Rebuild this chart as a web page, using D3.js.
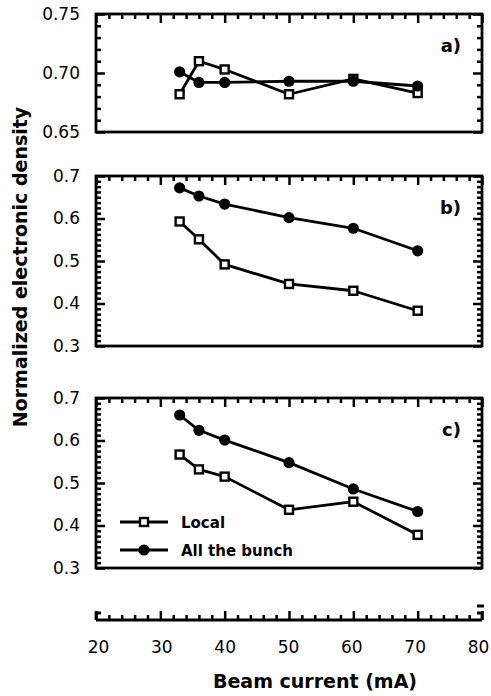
<!DOCTYPE html>
<meta charset="utf-8">
<title>Normalized electronic density vs beam current</title>
<style>
body { margin: 0; background: #fff; }
.tick text { font: 17px "DejaVu Sans", sans-serif; fill: #000; }
.tick line { stroke: #000; stroke-width: 2.5px; }
.title { font: bold 19px "DejaVu Sans", sans-serif; }
.plabel { font: bold 18px "DejaVu Sans", sans-serif; text-anchor: end; }
.legend { font: bold 15px "DejaVu Sans", sans-serif; }
</style>
<svg width="491" height="696"></svg>
<script src="https://d3js.org/d3.v7.min.js"></script>
<script>

// beam current (mA)
var current = [33, 36, 40, 50, 60, 70];

// panel a)
var localA = [0.682, 0.710, 0.703, 0.682, 0.695, 0.683];
var bunchA = [0.701, 0.692, 0.692, 0.693, 0.693, 0.689];
// panel b)
var localB = [0.593, 0.551, 0.492, 0.446, 0.430, 0.383];
var bunchB = [0.672, 0.653, 0.634, 0.602, 0.577, 0.524];
// panel c)
var localC = [0.567, 0.532, 0.515, 0.437, 0.456, 0.378];
var bunchC = [0.660, 0.624, 0.601, 0.548, 0.486, 0.433];

var panelNames = ["a)", "b)", "c)"];
var xTicks = [20, 30, 40, 50, 60, 70, 80];
var yTicksA = [0.65, 0.70, 0.75];
var yTicksBC = [0.3, 0.4, 0.5, 0.6, 0.7];
var seriesNames = ["Local", "All the bunch"];

var svg = d3.select("svg");

var x = d3.scaleLinear().domain([20, 80]).range([96, 482]);
var xMinor = d3.range(20, 80.1, 2).filter(function(v) { return v % 10 !== 0; });

var panels = [
  { name: panelNames[0], local: localA, bunch: bunchA, dom: [0.65, 0.75], range: [132, 14], ticks: yTicksA, fmt: ".2f", sub: 5 },
  { name: panelNames[1], local: localB, bunch: bunchB, dom: [0.3, 0.7], range: [346, 176], ticks: yTicksBC, fmt: ".1f", sub: 8 },
  { name: panelNames[2], local: localC, bunch: bunchC, dom: [0.3, 0.7], range: [568, 398], ticks: yTicksBC, fmt: ".1f", sub: 8 }
];

function clean(g) { g.select(".domain").remove(); }

var line = d3.line();
var majorLen = -9, minorLen = -5;

panels.forEach(function(p, i) {
  var y = d3.scaleLinear().domain(p.dom).range(p.range);
  // minor ticks between the labelled ones
  var yMinor = [];
  for (var k = 0; k < p.ticks.length - 1; k++) {
    var step = (p.ticks[k + 1] - p.ticks[k]) / p.sub;
    for (var m = 1; m < p.sub; m++) yMinor.push(p.ticks[k] + m * step);
  }
  var top = p.range[1], bottom = p.range[0];
  var g = svg.append("g");

  // left axis with labels, ticks inward
  g.append("g").attr("transform", "translate(" + x.range()[0] + ",0)")
    .call(d3.axisLeft(y).tickValues(p.ticks).tickSize(majorLen).tickPadding(16).tickFormat(d3.format(p.fmt)))
    .call(clean);
  g.append("g").attr("transform", "translate(" + x.range()[0] + ",0)")
    .call(d3.axisLeft(y).tickValues(yMinor).tickSize(minorLen).tickFormat(""))
    .call(clean);
  // right axis
  g.append("g").attr("transform", "translate(" + x.range()[1] + ",0)")
    .call(d3.axisRight(y).tickValues(p.ticks).tickSize(majorLen).tickFormat(""))
    .call(clean);
  g.append("g").attr("transform", "translate(" + x.range()[1] + ",0)")
    .call(d3.axisRight(y).tickValues(yMinor).tickSize(minorLen).tickFormat(""))
    .call(clean);
  // top axis
  g.append("g").attr("transform", "translate(0," + top + ")")
    .call(d3.axisTop(x).tickValues(xTicks).tickSize(majorLen).tickFormat(""))
    .call(clean);
  g.append("g").attr("transform", "translate(0," + top + ")")
    .call(d3.axisTop(x).tickValues(xMinor).tickSize(minorLen).tickFormat(""))
    .call(clean);

  // frame
  g.append("rect")
    .attr("x", x.range()[0]).attr("y", top)
    .attr("width", x.range()[1] - x.range()[0]).attr("height", bottom - top)
    .attr("fill", "none").attr("stroke", "#000").attr("stroke-width", 2.8);

  // lines
  [p.local, p.bunch].forEach(function(vals) {
    g.append("path")
      .attr("d", line(vals.map(function(v, j) { return [x(current[j]), y(v)]; })))
      .attr("fill", "none").attr("stroke", "#000").attr("stroke-width", 2.8)
      .attr("stroke-linejoin", "round");
  });

  // markers
  g.selectAll(".sq").data(p.local).enter().append("rect")
    .attr("x", function(v, j) { return x(current[j]) - 4; })
    .attr("y", function(v) { return y(v) - 4; })
    .attr("width", 8).attr("height", 8)
    .attr("fill", "#fff").attr("stroke", "#000").attr("stroke-width", 2.4);
  g.selectAll(".ci").data(p.bunch).enter().append("circle")
    .attr("cx", function(v, j) { return x(current[j]); })
    .attr("cy", function(v) { return y(v); })
    .attr("r", 5.6).attr("fill", "#000");

  g.append("text").attr("class", "plabel")
    .attr("x", 461).attr("y", top + 38).text(p.name);
});

// bottom x axis (empty strip)
var axisY = 620;
svg.append("g").attr("transform", "translate(0," + axisY + ")")
  .call(d3.axisBottom(x).tickValues(xTicks).tickSize(majorLen).tickPadding(21))
  .call(clean)
  .selectAll("text").attr("dx", function(v) { return 2 - 6 * (v - 20) / 60; });
svg.append("g").attr("transform", "translate(0," + axisY + ")")
  .call(d3.axisBottom(x).tickValues(xMinor).tickSize(minorLen).tickFormat(""))
  .call(clean);
var x0 = x.range()[0], x1 = x.range()[1];
svg.append("path")
  .attr("d", "M" + x0 + "," + axisY + "H" + x1 +
             "M" + (x0 + 5) + "," + (axisY - 7) + "H" + x0 + "V" + axisY +
             "M" + (x1 - 5) + "," + (axisY - 7) + "H" + x1 + "V" + axisY +
             "M" + (x1 - 5) + "," + (axisY - 14) + "H" + (x1 + 2))
  .attr("fill", "none").attr("stroke", "#000").attr("stroke-width", 2.8);

// legend in panel c
var leg = svg.append("g");
seriesNames.forEach(function(name, i) {
  var ly = 522 + i * 28;
  leg.append("line").attr("x1", 120).attr("x2", 168).attr("y1", ly).attr("y2", ly)
    .attr("stroke", "#000").attr("stroke-width", 2.8);
  if (i === 0) {
    leg.append("rect").attr("x", 140).attr("y", ly - 4).attr("width", 8).attr("height", 8)
      .attr("fill", "#fff").attr("stroke", "#000").attr("stroke-width", 2.4);
  } else {
    leg.append("circle").attr("cx", 144).attr("cy", ly).attr("r", 5.6).attr("fill", "#000");
  }
  leg.append("text").attr("class", "legend").attr("x", 181).attr("y", ly + 5.5).text(name);
});

// axis titles
svg.append("text").attr("class", "title")
  .attr("x", 315).attr("y", 688).attr("text-anchor", "middle")
  .text("Beam current (mA)");
svg.append("text").attr("class", "title")
  .attr("transform", "translate(27,267) rotate(-90)").attr("text-anchor", "middle")
  .text("Normalized electronic density");

</script>
